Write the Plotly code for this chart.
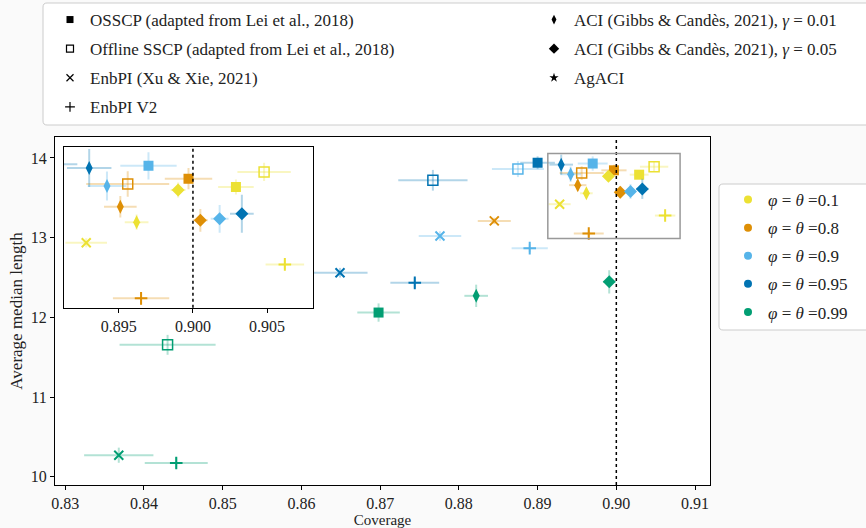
import plotly.graph_objects as go

# ---------------- data ----------------
levels = ["0.1", "0.8", "0.9", "0.95", "0.99"]
level_colors = ["#ece133", "#de8f05", "#56b4e9", "#0173b2", "#029e73"]

method_names = [
    "OSSCP (adapted from Lei et al., 2018)",
    "Offline SSCP (adapted from Lei et al., 2018)",
    "EnbPI (Xu &amp; Xie, 2021)",
    "EnbPI V2",
    "ACI (Gibbs &amp; Candès, 2021), <i>γ</i> = 0.01",
    "ACI (Gibbs &amp; Candès, 2021), <i>γ</i> = 0.05",
    "AgACI",
]

# coverage / average median length for each level (0.1, 0.8, 0.9, 0.95, 0.99)
osscp_cov = [0.9029, 0.8997, 0.8970, 0.8900, 0.8698]
osscp_cov_err = [0.0012, 0.0016, 0.0019, 0.0022, 0.0027]
osscp_len = [13.79, 13.845, 13.93, 13.94, 12.06]
osscp_len_err = [0.05, 0.07, 0.09, 0.08, 0.115]

offline_cov = [0.9048, 0.8956, 0.8875, 0.8767, 0.8430]
offline_cov_err = [0.0018, 0.0028, 0.0033, 0.0044, 0.0061]
offline_len = [13.89, 13.81, 13.86, 13.72, 11.655]
offline_len_err = [0.06, 0.085, 0.10, 0.13, 0.125]

enbpi_cov = [0.8928, 0.8845, 0.8776, 0.8649, 0.8368]
enbpi_cov_err = [0.0014, 0.0021, 0.0027, 0.0035, 0.0044]
enbpi_len = [13.42, 13.21, 13.02, 12.56, 10.27]
enbpi_len_err = [0.03, 0.04, 0.06, 0.06, 0.095]

enbpi2_cov = [0.9062, 0.8965, 0.8890, 0.8744, 0.8441]
enbpi2_cov_err = [0.0013, 0.0019, 0.0023, 0.0031, 0.0040]
enbpi2_len = [13.277, 13.052, 12.868, 12.433, 10.172]
enbpi2_len_err = [0.03, 0.04, 0.05, 0.06, 0.07]

aci001_cov = [0.8962, 0.8951, 0.8942, 0.8930, 0.8822]
aci001_cov_err = [0.0008, 0.0011, 0.0013, 0.0015, 0.0015]
aci001_len = [13.557, 13.659, 13.796, 13.916, 12.27]
aci001_len_err = [0.05, 0.071, 0.096, 0.126, 0.14]

aci005_cov = [0.8990, 0.9005, 0.9018, 0.9033, 0.8991]
aci005_cov_err = [0.0005, 0.0005, 0.0006, 0.0008, 0.0008]
aci005_len = [13.77, 13.569, 13.579, 13.612, 12.445]
aci005_len_err = [0.05, 0.075, 0.092, 0.126, 0.146]

agaci_cov = []
agaci_cov_err = []
agaci_len = []
agaci_len_err = []

target_coverage = 0.90
main_xticks = [0.83, 0.84, 0.85, 0.86, 0.87, 0.88, 0.89, 0.90, 0.91]
main_yticks = [10, 11, 12, 13, 14]
inset_xticks = [0.895, 0.900, 0.905]

# ---------------- styles ----------------
FONT = "Liberation Serif"
TXT = "#222222"
W, H = 866, 528
L, R, T, B = 55, 156, 137, 43
PW, PH = W - L - R, H - T - B


def px_x(px):
    return (px - L) / PW


def px_y(py):
    return (H - B - py) / PH


def rgba(hexc, a):
    h = hexc.lstrip("#")
    return "rgba(%d,%d,%d,%.2f)" % (int(h[0:2], 16), int(h[2:4], 16), int(h[4:6], 16), a)


series = [
    (osscp_cov, osscp_cov_err, osscp_len, osscp_len_err),
    (offline_cov, offline_cov_err, offline_len, offline_len_err),
    (enbpi_cov, enbpi_cov_err, enbpi_len, enbpi_len_err),
    (enbpi2_cov, enbpi2_cov_err, enbpi2_len, enbpi2_len_err),
    (aci001_cov, aci001_cov_err, aci001_len, aci001_len_err),
    (aci005_cov, aci005_cov_err, aci005_len, aci005_len_err),
    (agaci_cov, agaci_cov_err, agaci_len, agaci_len_err),
]
symbols = ["square", "square-open", "x-thin", "cross-thin", "diamond-tall", "diamond", "star"]
sizes = [10, 10, 9, 9, 10, 10, 10]
line_w = [0, 1.5, 2, 2, 0, 0, 0]
leg_sizes = [7, 7, 7, 7, 7, 8, 7]

fig = go.Figure()

for axes in (("x", "y"), ("x2", "y2")):
    for m, (cov, cov_e, ln, ln_e) in enumerate(series):
        for i in range(len(cov)):
            c = level_colors[i]
            fig.add_trace(go.Scatter(
                x=[cov[i]], y=[ln[i]], mode="markers",
                xaxis=axes[0], yaxis=axes[1], showlegend=False, hoverinfo="skip",
                error_x=dict(type="data", array=[cov_e[i]], color=rgba(c, 0.3), thickness=2, width=0),
                error_y=dict(type="data", array=[ln_e[i]], color=rgba(c, 0.3), thickness=2, width=0),
                marker=dict(symbol=symbols[m], size=sizes[m], color=c,
                            line=dict(color=c, width=line_w[m])),
            ))

# method legend (two columns)
for m, name in enumerate(method_names):
    fig.add_trace(go.Scatter(
        x=[None], y=[None], mode="markers", name=name,
        legend="legend" if m < 4 else "legend2", legendgroup="m%d" % m,
        marker=dict(symbol=symbols[m], size=leg_sizes[m], color="black",
                    line=dict(color="black", width=1.2 if line_w[m] else 0)),
    ))

# level legend
for i, lev in enumerate(levels):
    fig.add_trace(go.Scatter(
        x=[None], y=[None], mode="markers",
        name="<i>φ</i> = <i>θ</i> =" + lev,
        legend="legend3", legendgroup="l%d" % i,
        marker=dict(symbol="circle", size=8, color=level_colors[i]),
    ))

inset_xr = [0.8913, 0.9081]
inset_yr = [12.99, 14.055]

shapes = [
    # target coverage lines
    dict(type="line", xref="x", yref="y domain", x0=target_coverage, x1=target_coverage, y0=0, y1=1,
         line=dict(color="black", width=1.5, dash="dot")),
    dict(type="line", xref="x2", yref="y2 domain", x0=target_coverage, x1=target_coverage, y0=0, y1=1,
         line=dict(color="black", width=1.5, dash="dot")),
    # zoom rectangle
    dict(type="rect", xref="x", yref="y", x0=inset_xr[0], x1=inset_xr[1], y0=inset_yr[0], y1=inset_yr[1],
         line=dict(color="#999999", width=1.5), layer="above"),
]


def rounded_box(x0, y0, x1, y1, r=4):
    # pixel coords -> paper path with rounded corners
    def P(px, py):
        return "%.5f,%.5f" % (px_x(px), px_y(py))
    return ("M" + P(x0 + r, y0) + " L" + P(x1 - r, y0) + " Q" + P(x1, y0) + " " + P(x1, y0 + r) +
            " L" + P(x1, y1 - r) + " Q" + P(x1, y1) + " " + P(x1 - r, y1) +
            " L" + P(x0 + r, y1) + " Q" + P(x0, y1) + " " + P(x0, y1 - r) +
            " L" + P(x0, y0 + r) + " Q" + P(x0, y0) + " " + P(x0 + r, y0) + " Z")


shapes.append(dict(type="path", xref="paper", yref="paper", path=rounded_box(43, 3, 872, 125),
                   fillcolor="white", line=dict(color="#cccccc", width=1), layer="below"))
shapes.append(dict(type="path", xref="paper", yref="paper", path=rounded_box(719, 184, 872, 330),
                   fillcolor="white", line=dict(color="#cccccc", width=1), layer="below"))

axis_common = dict(showline=True, linecolor="black", linewidth=1, mirror=True, showgrid=False,
                   zeroline=False, ticks="outside", ticklen=4, tickcolor="black",
                   tickfont=dict(family=FONT, size=16, color=TXT))

leg_common = dict(bgcolor="rgba(0,0,0,0)", borderwidth=0, font=dict(family=FONT, size=17, color=TXT),
                  traceorder="grouped", itemclick=False, itemdoubleclick=False,
                  xanchor="left", yanchor="top", orientation="v")

fig.update_layout(
    width=W, height=H,
    margin=dict(l=L, r=R, t=T, b=B, autoexpand=False),
    paper_bgcolor="#fafafa", plot_bgcolor="white",
    font=dict(family=FONT, size=16, color=TXT),
    xaxis=dict(domain=[0, 1], range=[0.8287, 0.9119], tickvals=main_xticks,
               ticktext=["%.2f" % v for v in main_xticks],
               title=dict(text="Coverage", font=dict(family=FONT, size=15, color=TXT), standoff=9),
               **axis_common),
    yaxis=dict(domain=[0, 1], range=[9.896, 14.263], tickvals=main_yticks,
               ticktext=[str(v) for v in main_yticks],
               title=dict(text="Average median length", font=dict(family=FONT, size=17, color=TXT), standoff=3),
               **axis_common),
    xaxis2=dict(domain=[px_x(64), px_x(313)], anchor="y2", range=inset_xr, tickvals=inset_xticks,
                ticktext=["%.3f" % v for v in inset_xticks], **axis_common),
    yaxis2=dict(domain=[px_y(307.7), px_y(147)], anchor="x2", range=inset_yr,
                showline=True, linecolor="black", linewidth=1, mirror=True, showgrid=False,
                zeroline=False, ticks="", showticklabels=False),
    shapes=shapes,
    legend=dict(x=px_x(50), y=px_y(2), tracegroupgap=4, **leg_common),
    legend2=dict(x=px_x(534), y=px_y(2), tracegroupgap=4, **leg_common),
    legend3=dict(x=px_x(728), y=px_y(182), tracegroupgap=3, **leg_common),
)

fig.write_html("out.html", config={"displayModeBar": False},
               post_script="document.body.style.margin='0';document.body.style.overflow='hidden';")
